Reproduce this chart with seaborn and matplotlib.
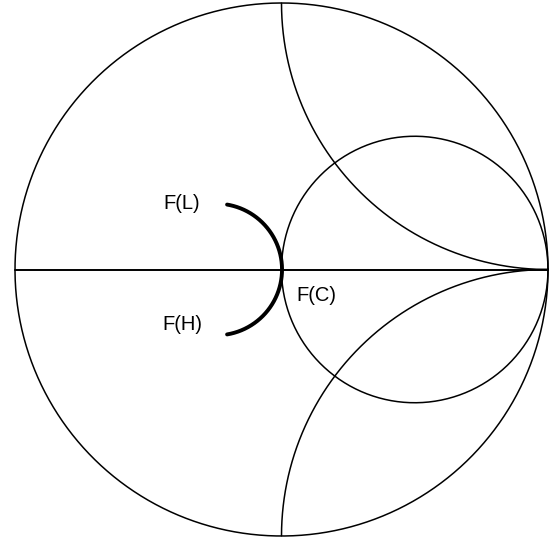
import numpy as np
import pandas as pd
import matplotlib
matplotlib.use("Agg")
import matplotlib.pyplot as plt
import seaborn as sns

sns.set_style("white")
plt.rcParams["font.family"] = ["Liberation Sans", "DejaVu Sans"]

# Smith chart grid: constant-resistance and constant-reactance values
resistance_values = [0.0, 1.0]
reactance_values = [1.0, -1.0]

# thick locus arc (reflection-plane circle) and its angular span in degrees
locus_center = (-0.245, 0.0)
locus_radius = 0.247
locus_span = (-80.5, 80.5)

# labels
label_text = ["F(L)", "F(H)", "F(C)"]
label_x = [-0.373, -0.373, 0.129]
label_y = [0.248, -0.205, -0.096]


def resistance_circle(r, n=400):
    c, rad = r / (1 + r), 1 / (1 + r)
    t = np.linspace(0, 2 * np.pi, n)
    return pd.DataFrame({"x": c + rad * np.cos(t), "y": rad * np.sin(t)})


def reactance_arc(xv):
    # circle centre (1, 1/x), radius 1/|x|, keep the part inside |G|<=1
    cy, rad = 1 / xv, 1 / abs(xv)
    t = np.linspace(0, 2 * np.pi, 4000)
    px, py = 1 + rad * np.cos(t), cy + rad * np.sin(t)
    keep = px ** 2 + py ** 2 <= 1 + 1e-9
    pts = pd.DataFrame({"x": px[keep], "y": py[keep]})
    return pts.sort_values("x")


fig = plt.figure(figsize=(5.5, 5.4), dpi=100)
ax = fig.add_axes([0, 0, 1, 1])

for r in resistance_values:
    d = resistance_circle(r)
    sns.lineplot(data=d, x="x", y="y", sort=False, estimator=None,
                 color="black", lw=1.1, ax=ax)
for xv in reactance_values:
    d = reactance_arc(xv)
    sns.lineplot(data=d, x="x", y="y", sort=False, estimator=None,
                 color="black", lw=1.1, ax=ax)

# real axis
sns.lineplot(x=[-1.0, 1.0], y=[0.0, 0.0], sort=False, estimator=None,
             color="black", lw=1.4, ax=ax)

t = np.radians(np.linspace(locus_span[0], locus_span[1], 200))
arc = pd.DataFrame({"x": locus_center[0] + locus_radius * np.cos(t),
                    "y": locus_center[1] + locus_radius * np.sin(t)})
sns.lineplot(data=arc, x="x", y="y", sort=False, estimator=None,
             color="black", lw=2.8, ax=ax, solid_capstyle="round")

for txt, lx, ly in zip(label_text, label_x, label_y):
    ax.text(lx, ly, txt, ha="center", va="center", fontsize=14.5,
            color="black")

ax.set_xlim(-281.5 / 266.5, 268.5 / 266.5)
ax.set_ylim(-270.5 / 266.5, 269.5 / 266.5)
ax.set_aspect("auto")
ax.axis("off")

fig.savefig("out.png", dpi=100)
